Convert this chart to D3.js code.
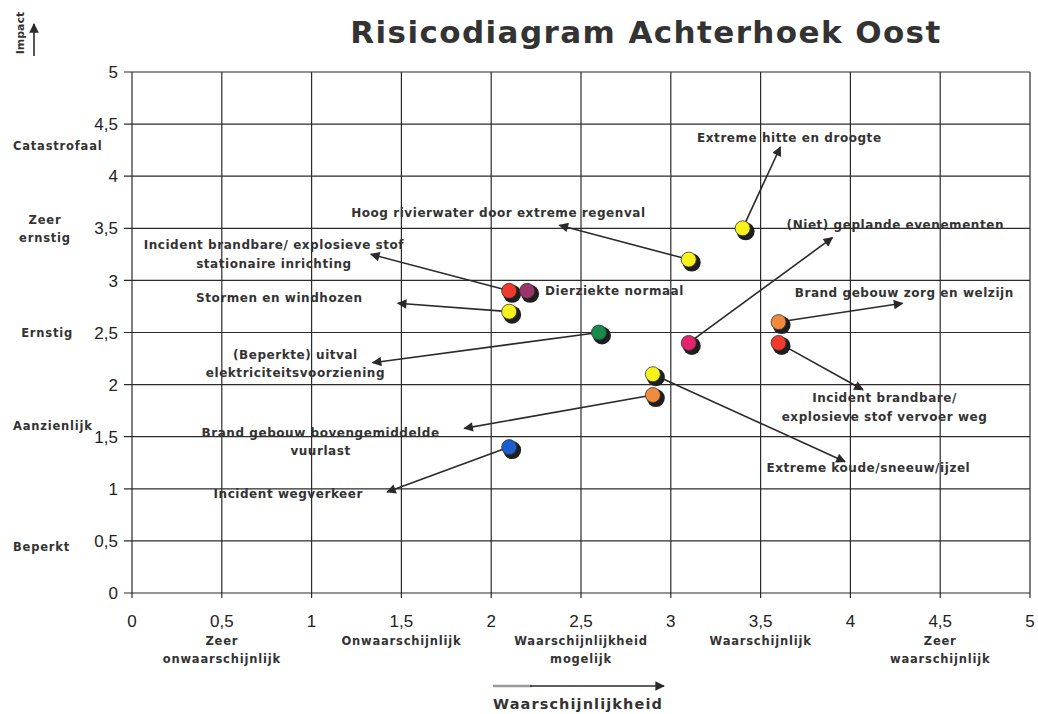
<!DOCTYPE html>
<meta charset="utf-8">
<style>
body { margin: 0; background: #fff; }
svg { font-family: "Liberation Sans", Arial, sans-serif; }
.grid line { stroke: #2b2b2b; stroke-width: 1.2; }
.tick-label { fill: #222; font-size: 17px; }
.cat { fill: #333; font-family: "DejaVu Sans", sans-serif; font-size: 11.5px; font-weight: bold; letter-spacing: 0.8px; }
.risk { fill: #333; font-family: "DejaVu Sans", sans-serif; font-size: 12px; font-weight: bold; letter-spacing: 0.55px; }
.arrow { stroke: #2a2a2a; stroke-width: 1.6; fill: none; }
</style>
<body>
<script src="https://d3js.org/d3.v7.min.js"></script>
<script>

var width = 1038
var height = 714

// data

var ticks = [0, 0.5, 1, 1.5, 2, 2.5, 3, 3.5, 4, 4.5, 5]

var impactLabels = [
  {text: ["Catastrofaal"], v: 4.29},
  {text: ["Zeer", "ernstig"], v: 3.5},
  {text: ["Ernstig"], v: 2.5},
  {text: ["Aanzienlijk"], v: 1.6},
  {text: ["Beperkt"], v: 0.44}
]

var probLabels = [
  {text: ["Zeer", "onwaarschijnlijk"], v: 0.5},
  {text: ["Onwaarschijnlijk"], v: 1.5},
  {text: ["Waarschijnlijkheid", "mogelijk"], v: 2.5},
  {text: ["Waarschijnlijk"], v: 3.5},
  {text: ["Zeer", "waarschijnlijk"], v: 4.5}
]

var risks = [
  "Extreme hitte en droogte",
  "Hoog rivierwater door extreme regenval",
  "Incident brandbare/ explosieve stof|stationaire inrichting",
  "Dierziekte normaal",
  "Stormen en windhozen",
  "(Beperkte) uitval|elektriciteitsvoorziening",
  "(Niet) geplande evenementen",
  "Brand gebouw zorg en welzijn",
  "Incident brandbare/|explosieve stof  vervoer weg",
  "Extreme koude/sneeuw/ijzel",
  "Brand gebouw bovengemiddelde|vuurlast",
  "Incident wegverkeer"
]
var probability = [3.4, 3.1, 2.1, 2.2, 2.1, 2.6, 3.1, 3.6, 3.6, 2.9, 2.9, 2.1]
var impact      = [3.5, 3.2, 2.9, 2.9, 2.7, 2.5, 2.4, 2.6, 2.4, 2.1, 1.9, 1.4]
var dotColors = ["#f7f21c", "#f7f21c", "#f0392b", "#9b3467", "#f7f21c", "#178a4c",
                 "#e3246c", "#f08a3c", "#ef3a2c", "#f7f21c", "#f08a3c", "#1b5fcf"]

// annotation anchors in data units: label centre and arrow tip
var labelPos = [[3.66, 4.37], [2.04, 3.65], [0.79, 3.34], [2.30, 2.90], [0.82, 2.83], [0.91, 2.29],
                [4.25, 3.53], [4.30, 2.88], [4.19, 1.87], [4.10, 1.20], [1.05, 1.54], [0.87, 0.95]]
var arrowTip = [[3.61, 4.28], [2.38, 3.53], [1.33, 3.25], null, [1.48, 2.78], [1.34, 2.21],
                [3.90, 3.41], [4.29, 2.78], [4.07, 1.95], [3.97, 1.26], [1.85, 1.58], [1.42, 0.97]]

var svg = d3.select("body").append("svg")
    .attr("width", width)
    .attr("height", height)

svg.append("defs").append("marker")
    .attr("id", "head")
    .attr("viewBox", "0 0 10 10")
    .attr("refX", 9).attr("refY", 5)
    .attr("markerWidth", 7).attr("markerHeight", 6)
    .attr("markerUnits", "strokeWidth")
    .attr("orient", "auto")
  .append("path")
    .attr("d", "M0,0 L10,5 L0,10 z")
    .attr("fill", "#2a2a2a")

var x = d3.scaleLinear().domain([0, 5]).range([132, 1030])
var y = d3.scaleLinear().domain([0, 5]).range([593, 72])

var fmt = function(d) { return String(d).replace(".", ",") }

// title
svg.append("text")
    .attr("x", 646).attr("y", 43)
    .attr("text-anchor", "middle")
    .attr("font-family", "DejaVu Sans, sans-serif")
    .attr("font-size", 31)
    .attr("font-weight", "bold")
    .attr("letter-spacing", "1.4px")
    .attr("fill", "#333")
    .text("Risicodiagram Achterhoek Oost")

// grid
var grid = svg.append("g").attr("class", "grid")
grid.selectAll(".v").data(ticks).enter().append("line")
    .attr("x1", function(d) { return x(d) }).attr("x2", function(d) { return x(d) })
    .attr("y1", y(5)).attr("y2", y(0) + 5)
grid.selectAll(".h").data(ticks).enter().append("line")
    .attr("x1", x(0) - 8).attr("x2", x(5))
    .attr("y1", function(d) { return y(d) }).attr("y2", function(d) { return y(d) })

// tick labels
svg.selectAll(".yt").data(ticks).enter().append("text")
    .attr("class", "tick-label")
    .attr("x", 118).attr("y", function(d) { return y(d) })
    .attr("dy", "0.36em")
    .attr("text-anchor", "end")
    .text(fmt)

svg.selectAll(".xt").data(ticks).enter().append("text")
    .attr("class", "tick-label")
    .attr("x", function(d) { return x(d) }).attr("y", 627)
    .attr("text-anchor", "middle")
    .text(fmt)

// category labels
impactLabels.forEach(function(d) {
  var two = d.text.length > 1
  var isE = d.text[0] == "Ernstig"
  var t = svg.append("text").attr("class", "cat")
      .attr("x", two ? 45 : (isE ? 73 : 13))
      .attr("y", y(d.v))
      .attr("text-anchor", two ? "middle" : (isE ? "end" : "start"))
  d.text.forEach(function(s, i) {
    t.append("tspan").attr("x", t.attr("x")).attr("dy", i == 0 ? (two ? "-0.35em" : "0.35em") : "1.5em").text(s)
  })
})

probLabels.forEach(function(d) {
  var t = svg.append("text").attr("class", "cat")
      .attr("x", x(d.v)).attr("y", 645)
      .attr("text-anchor", "middle")
  d.text.forEach(function(s, i) {
    t.append("tspan").attr("x", x(d.v)).attr("dy", i == 0 ? 0 : "1.55em").text(s)
  })
})

// axis titles
svg.append("text")
    .attr("transform", "translate(24,33) rotate(-90)")
    .attr("text-anchor", "middle")
    .attr("font-family", "DejaVu Sans, sans-serif")
    .attr("font-size", 11).attr("font-weight", "bold").attr("fill", "#333")
    .text("Impact")
svg.append("line").attr("class", "arrow")
    .attr("x1", 34).attr("x2", 34).attr("y1", 56).attr("y2", 24)
    .attr("marker-end", "url(#head)")

svg.append("line")
    .attr("x1", 493).attr("x2", 532).attr("y1", 686).attr("y2", 686)
    .attr("stroke", "#999").attr("stroke-width", 2.5)
svg.append("line").attr("class", "arrow")
    .attr("x1", 530).attr("x2", 664).attr("y1", 686).attr("y2", 686)
    .attr("stroke-width", 2.5)
    .attr("marker-end", "url(#head)")
svg.append("text")
    .attr("x", 578).attr("y", 709)
    .attr("text-anchor", "middle")
    .attr("font-family", "DejaVu Sans, sans-serif")
    .attr("font-size", 14.5).attr("font-weight", "bold").attr("fill", "#333")
    .attr("letter-spacing", "1.1px")
    .text("Waarschijnlijkheid")

// arrows
risks.forEach(function(r, i) {
  if (!arrowTip[i]) return
  svg.append("line").attr("class", "arrow")
      .attr("x1", x(probability[i])).attr("y1", y(impact[i]))
      .attr("x2", x(arrowTip[i][0])).attr("y2", y(arrowTip[i][1]))
      .attr("marker-end", "url(#head)")
})

// risk labels
risks.forEach(function(r, i) {
  var lines = r.split("|")
  var t = svg.append("text").attr("class", "risk")
      .attr("x", x(labelPos[i][0])).attr("y", y(labelPos[i][1]))
      .attr("text-anchor", arrowTip[i] ? "middle" : "start")
  lines.forEach(function(s, j) {
    t.append("tspan").attr("x", x(labelPos[i][0])).attr("dy", j == 0 ? "0.35em" : "1.55em").text(s)
  })
})

// dots
var dots = svg.append("g")
dots.selectAll(".shadow").data(risks).enter().append("circle")
    .attr("cx", function(d, i) { return x(probability[i]) + 3 })
    .attr("cy", function(d, i) { return y(impact[i]) + 3 })
    .attr("r", 9)
    .attr("fill", "#1e1e1e")
dots.selectAll(".dot").data(risks).enter().append("circle")
    .attr("cx", function(d, i) { return x(probability[i]) })
    .attr("cy", function(d, i) { return y(impact[i]) })
    .attr("r", 7.5)
    .attr("fill", function(d, i) { return dotColors[i] })
    .attr("stroke", "#333").attr("stroke-width", 0.8)

</script>
